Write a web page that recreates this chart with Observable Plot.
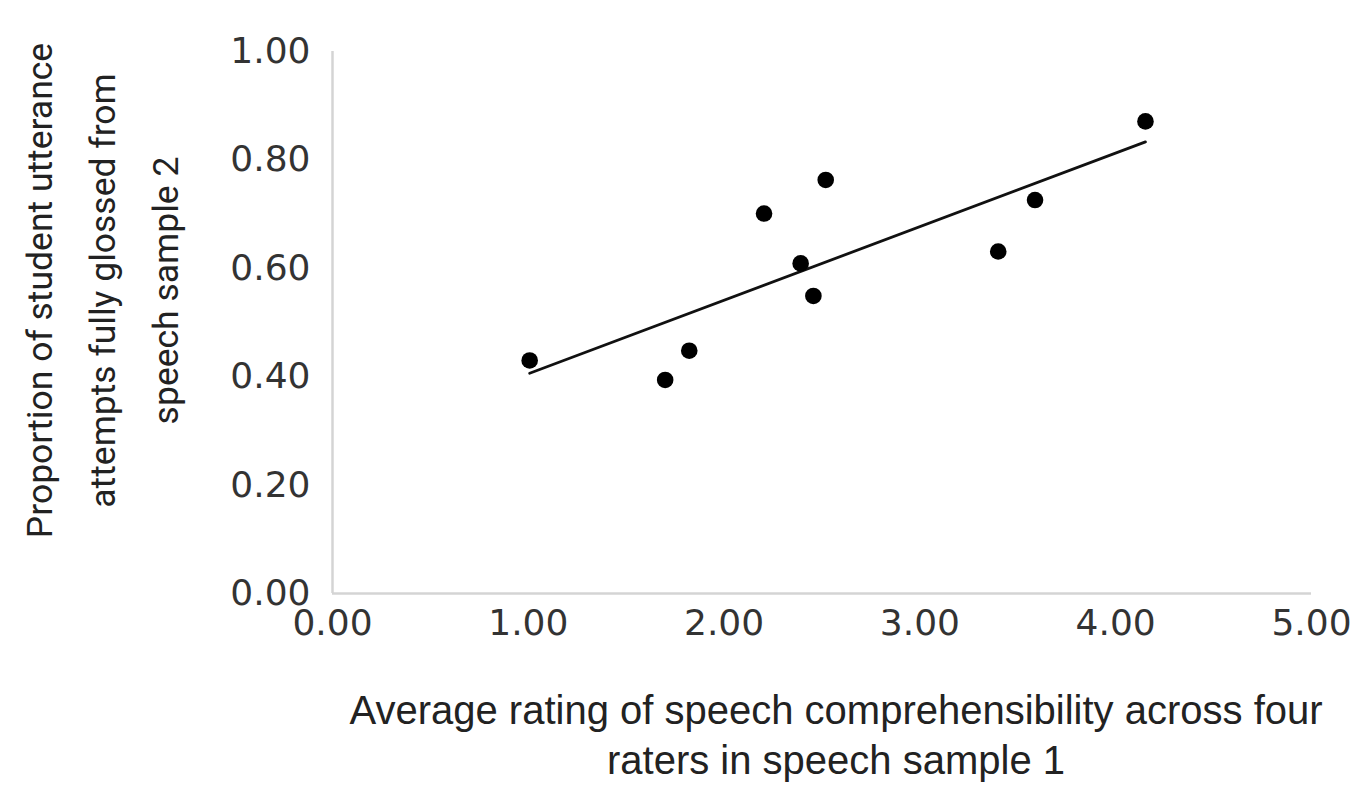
<!DOCTYPE html>
<html>
<head>
<meta charset="utf-8">
<script src="https://cdn.jsdelivr.net/npm/d3@7"></script>
<script src="https://cdn.jsdelivr.net/npm/@observablehq/plot@0.6"></script>
<style>
  html, body { margin: 0; padding: 0; background: #fff; }
  #chart { width: 1355px; height: 786px; }
</style>
</head>
<body>
<div id="chart"></div>
<script>
// Data
const ratings = [1.007, 1.699, 1.822, 2.204, 2.391, 2.456, 2.519, 3.400, 3.588, 4.152];
const proportions = [0.430, 0.394, 0.448, 0.701, 0.609, 0.549, 0.763, 0.631, 0.726, 0.871];
const xTicks = [0, 1, 2, 3, 4, 5];
const yTicks = [0, 0.2, 0.4, 0.6, 0.8, 1.0];
const xTitle = "Average rating of speech comprehensibility across four\nraters in speech sample 1";
const yTitle = "Proportion of student utterance\nattempts fully glossed from\nspeech sample 2";

const data = ratings.map((r, i) => ({rating: r, proportion: proportions[i]}));

const chart = Plot.plot({
  width: 1355,
  height: 786,
  marginLeft: 332,
  marginRight: 44,
  marginTop: 51,
  marginBottom: 193,
  style: {background: "#fff", fontFamily: "DejaVu Sans", color: "#333"},
  x: {domain: [0, 5]},
  y: {domain: [0, 1]},
  marks: [
    Plot.axisX({ticks: xTicks, tickSize: 0, tickPadding: 16, tickFormat: d3.format(".2f"),
      fontSize: 36, fill: "#333", label: null, fontFamily: "DejaVu Sans"}),
    Plot.axisY({ticks: yTicks, tickSize: 0, tickPadding: 22, tickFormat: d3.format(".2f"),
      fontSize: 36, fill: "#333", label: null, fontFamily: "DejaVu Sans"}),
    Plot.ruleY([0], {stroke: "#d4d4d4", strokeWidth: 2.5}),
    Plot.ruleX([0], {stroke: "#d4d4d4", strokeWidth: 2.5}),
    Plot.linearRegressionY(data, {x: "rating", y: "proportion", stroke: "#111", strokeWidth: 2.8, ci: 0}),
    Plot.dot(data, {x: "rating", y: "proportion", r: 8.3, fill: "#000", stroke: "none"}),
    Plot.text([xTitle], {text: d => d, frameAnchor: "bottom", dx: 14, dy: 139,
      fontSize: 40, lineHeight: 1.25, fill: "#222", fontFamily: "Liberation Sans", lineAnchor: "middle"}),
    Plot.text([yTitle], {text: d => d, frameAnchor: "left", textAnchor: "middle", dx: -238, dy: -32, rotate: -90,
      fontSize: 35.5, lineHeight: 1.78, fill: "#222", fontFamily: "Roboto", lineAnchor: "middle"})
  ]
});
document.getElementById("chart").appendChild(chart);
</script>
</body>
</html>
